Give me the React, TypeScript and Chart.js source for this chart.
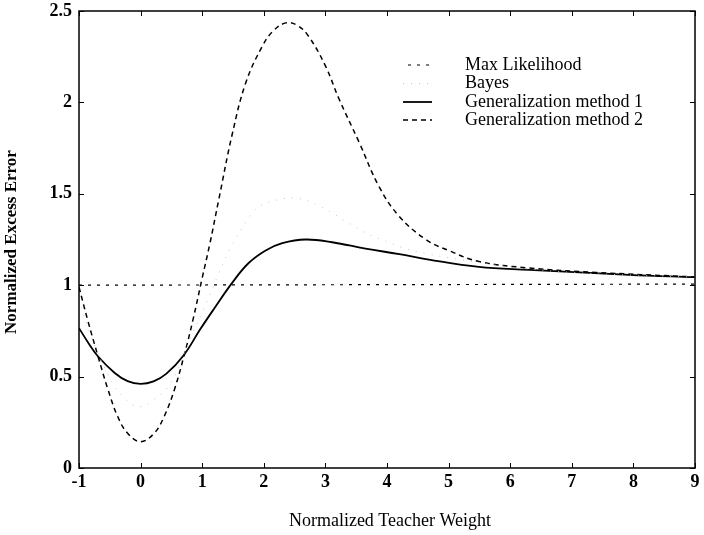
import React, { useEffect, useRef } from "react";
import { Chart, registerables } from "chart.js";
Chart.register(...registerables);

const FONT = '"Liberation Serif", "Times New Roman", serif';

// ---- data ----
const xMaxLik = [-1, 9];
const yMaxLik = [1.0, 1.006];

const xBayes = [-1, -0.85, -0.6, -0.42, -0.26, -0.13, 0, 0.2, 0.49, 0.8, 1.14, 1.25, 1.44, 1.76, 1.92, 2.2, 2.55, 2.92, 3.38, 3.63, 4.06, 4.3, 4.68, 5.2, 6, 7, 8, 9];
const yBayes = [0.92, 0.76, 0.56, 0.445, 0.38, 0.345, 0.335, 0.37, 0.465, 0.7, 0.96, 1.05, 1.19, 1.37, 1.43, 1.465, 1.475, 1.43, 1.34, 1.29, 1.23, 1.2, 1.17, 1.14, 1.1, 1.07, 1.055, 1.045];

const xGen1 = [-1, -0.84, -0.69, -0.42, -0.21, 0, 0.21, 0.42, 0.7, 0.97, 1.19, 1.48, 1.75, 2.03, 2.3, 2.68, 3.11, 3.65, 4.2, 4.68, 5.49, 6.31, 7.93, 9];
const yGen1 = [0.765, 0.68, 0.61, 0.52, 0.475, 0.46, 0.474, 0.516, 0.617, 0.76, 0.87, 1.01, 1.12, 1.19, 1.23, 1.25, 1.235, 1.2, 1.17, 1.14, 1.1, 1.084, 1.057, 1.044];

const xGen2 = [-1, -0.86, -0.69, -0.53, -0.37, -0.21, 0, 0.22, 0.38, 0.55, 0.71, 0.85, 1.0, 1.12, 1.27, 1.49, 1.71, 1.98, 2.15, 2.36, 2.55, 2.73, 3.0, 3.22, 3.55, 3.87, 4.19, 4.63, 5.0, 5.49, 6.31, 7.39, 9];
const yGen2 = [0.99, 0.81, 0.61, 0.43, 0.28, 0.19, 0.144, 0.19, 0.28, 0.43, 0.62, 0.81, 1.04, 1.22, 1.47, 1.83, 2.11, 2.31, 2.39, 2.435, 2.42, 2.36, 2.2, 2.02, 1.78, 1.54, 1.38, 1.25, 1.19, 1.13, 1.094, 1.07, 1.045];

const xTickValues = [-1, 0, 1, 2, 3, 4, 5, 6, 7, 8, 9];
const yTickValues = [0, 0.5, 1, 1.5, 2, 2.5];
const seriesLabels = ["Max Likelihood", "Bayes", "Generalization method 1", "Generalization method 2"];
const xTitle = "Normalized Teacher Weight";
const yTitle = "Normalized Excess Error";

function zip(xs: number[], ys: number[]) {
  return xs.map((x, i) => ({ x, y: ys[i] }));
}

const framePlugin = {
  id: "frameAndText",
  afterDraw(chart: any) {
    const { ctx, chartArea: a, scales } = chart;
    const xs = scales.x;
    const ys = scales.y;
    ctx.save();
    ctx.strokeStyle = "#000";
    ctx.lineWidth = 1.5;
    ctx.setLineDash([]);
    ctx.strokeRect(a.left, a.top, a.right - a.left, a.bottom - a.top);
    ctx.lineWidth = 1;
    const L = 5;
    ctx.beginPath();
    xTickValues.forEach((v) => {
      const px = Math.round(xs.getPixelForValue(v)) + 0.5;
      ctx.moveTo(px, a.bottom);
      ctx.lineTo(px, a.bottom - L);
      ctx.moveTo(px, a.top);
      ctx.lineTo(px, a.top + L);
    });
    yTickValues.forEach((v) => {
      const py = Math.round(ys.getPixelForValue(v)) + 0.5;
      ctx.moveTo(a.left, py);
      ctx.lineTo(a.left + L, py);
      ctx.moveTo(a.right, py);
      ctx.lineTo(a.right - L, py);
    });
    ctx.stroke();

    // legend
    const rows = [65, 83.5, 102, 120];
    const ds = chart.data.datasets;
    ds.forEach((d: any, i: number) => {
      const y = rows[i];
      ctx.beginPath();
      ctx.strokeStyle = d.borderColor;
      ctx.lineWidth = d.borderWidth;
      ctx.setLineDash(d.borderDash || []);
      ctx.moveTo(i === 0 ? 408 : 403, y);
      ctx.lineTo(432, y);
      ctx.stroke();
      ctx.setLineDash([]);
      ctx.fillStyle = "#000";
      ctx.font = `18px ${FONT}`;
      ctx.textBaseline = "middle";
      ctx.textAlign = "left";
      ctx.fillText(d.label, 465, y);
    });

    // axis titles
    ctx.fillStyle = "#000";
    ctx.font = `18px ${FONT}`;
    ctx.textAlign = "center";
    ctx.textBaseline = "middle";
    ctx.fillText(xTitle, 390, 521);
    ctx.save();
    ctx.translate(12, 242);
    ctx.rotate(-Math.PI / 2);
    ctx.font = `bold 17px ${FONT}`;
    ctx.fillText(yTitle, 0, 0);
    ctx.restore();
    ctx.restore();
  },
};

export default function App() {
  const ref = useRef<HTMLCanvasElement | null>(null);
  useEffect(() => {
    if (!ref.current) return;
    const chart = new Chart(ref.current, {
      type: "line",
      data: {
        datasets: [
          {
            label: seriesLabels[0],
            data: zip(xMaxLik, yMaxLik),
            borderColor: "#000",
            borderWidth: 1.2,
            borderDash: [3, 6],
            pointRadius: 0,
            fill: false,
          },
          {
            label: seriesLabels[1],
            data: zip(xBayes, yBayes),
            borderColor: "#c4c4c4",
            borderWidth: 1,
            borderDash: [1, 7],
            pointRadius: 0,
            tension: 0.4,
            fill: false,
          },
          {
            label: seriesLabels[2],
            data: zip(xGen1, yGen1),
            borderColor: "#000",
            borderWidth: 1.8,
            pointRadius: 0,
            tension: 0.4,
            fill: false,
          },
          {
            label: seriesLabels[3],
            data: zip(xGen2, yGen2),
            borderColor: "#000",
            borderWidth: 1.5,
            borderDash: [5, 4],
            pointRadius: 0,
            tension: 0.4,
            fill: false,
          },
        ],
      },
      options: {
        animation: false,
        responsive: true,
        maintainAspectRatio: false,
        layout: { padding: { top: 11, right: 9, left: 0, bottom: 0 } },
        plugins: { legend: { display: false }, tooltip: { enabled: false } },
        scales: {
          x: {
            type: "linear",
            min: -1,
            max: 9,
            grid: { display: false, drawTicks: false },
            border: { display: false },
            afterFit: (s: any) => {
              s.height = 67;
              s.paddingLeft = 0;
              s.paddingRight = 0;
            },
            afterBuildTicks: (s: any) => {
              s.ticks = xTickValues.map((v) => ({ value: v }));
            },
            ticks: {
              padding: 4,
              color: "#000",
              font: { family: FONT, size: 18, weight: "bold" },
              maxRotation: 0,
              autoSkip: false,
              callback: (v: any) => String(v),
            },
          },
          y: {
            type: "linear",
            min: 0,
            max: 2.5,
            grid: { display: false, drawTicks: false },
            border: { display: false },
            afterFit: (s: any) => {
              s.width = 79;
              s.paddingTop = 0;
              s.paddingBottom = 0;
            },
            afterBuildTicks: (s: any) => {
              s.ticks = yTickValues.map((v) => ({ value: v }));
            },
            ticks: {
              padding: 7,
              color: "#000",
              font: { family: FONT, size: 18, weight: "bold" },
              autoSkip: false,
              callback: (v: any) => String(v),
            },
          },
        },
      },
      plugins: [framePlugin],
    } as any);
    return () => chart.destroy();
  }, []);
  return (
    <div style={{ position: "fixed", left: 0, top: 0, width: 704, height: 535, background: "#fff" }}>
      <canvas ref={ref} />
    </div>
  );
}
